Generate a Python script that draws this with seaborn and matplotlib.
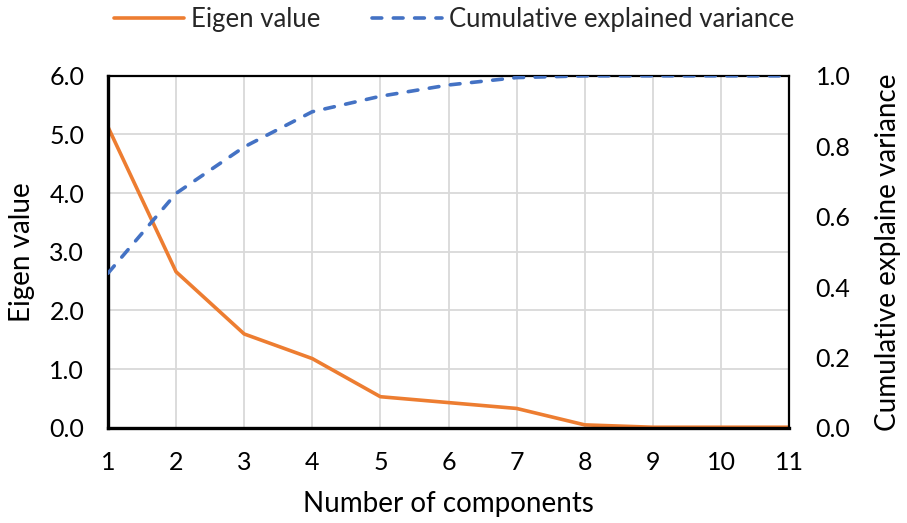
import matplotlib
matplotlib.use("Agg")
import matplotlib.pyplot as plt
import seaborn as sns
import pandas as pd

components = [1, 2, 3, 4, 5, 6, 7, 8, 9, 10, 11]
eigen_values = [5.13, 2.66, 1.60, 1.18, 0.53, 0.43, 0.33, 0.05, 0.01, 0.01, 0.01]
cumulative_variance = [0.439, 0.666, 0.798, 0.898, 0.942, 0.974, 0.995, 1.0, 1.0, 1.0, 1.0]
left_ticks = [0.0, 1.0, 2.0, 3.0, 4.0, 5.0, 6.0]
right_ticks = [0.0, 0.2, 0.4, 0.6, 0.8, 1.0]

sns.set_theme(style="white")
plt.rcParams["font.family"] = ["Lato", "DejaVu Sans"]

df = pd.DataFrame({"n": components, "eig": eigen_values, "cum": cumulative_variance})

fig = plt.figure(figsize=(9.07, 5.23), dpi=100)
ax = fig.add_axes([0.119, 0.182, 0.751, 0.673])
ax2 = ax.twinx()

orange = "#ED7D31"
blue = "#4472C4"

sns.lineplot(data=df, x="n", y="eig", ax=ax, color=orange, linewidth=2.6,
             label="Eigen value", legend=False)
sns.lineplot(data=df, x="n", y="cum", ax=ax2, color=blue, linewidth=2.6,
             label="Cumulative explained variance", legend=False)
ax2.lines[0].set_dashes((2.7, 3.2))
ax2.lines[0].set_dash_capstyle("round")

ax.set_xlim(1, 11)
ax.set_ylim(0, 6)
ax2.set_ylim(0, 1)
ax.set_xticks(components)
ax.set_yticks(left_ticks)
ax.set_yticklabels([f"{v:.1f}" for v in left_ticks])
ax2.set_yticks(right_ticks)
ax2.set_yticklabels([f"{v:.1f}" for v in right_ticks])

ax.grid(True, color="#D9D9D9", linewidth=1.3)
ax.set_axisbelow(True)
ax2.grid(False)

ax.tick_params(axis="x", length=0, labelsize=18, colors="black", pad=17)
ax.tick_params(axis="y", length=0, labelsize=18, colors="black", pad=17)
ax2.tick_params(axis="y", length=0, labelsize=18, colors="black", pad=19)
for a in (ax, ax2):
    for s in a.spines.values():
        s.set_color("black")
ax.spines["left"].set_linewidth(2.4)
ax.spines["bottom"].set_linewidth(2.4)
ax.spines["top"].set_linewidth(1.6)
ax2.spines["right"].set_linewidth(1.6)
ax2.spines["left"].set_visible(False)
ax2.spines["bottom"].set_visible(False)
ax2.spines["top"].set_visible(False)

ax.set_xlabel("Number of components", fontsize=20, color="black", labelpad=12)
ax.set_ylabel("Eigen value", fontsize=20, color="black", labelpad=10)
ax2.set_ylabel("Cumulative explaine variance", fontsize=20, color="black", labelpad=18)

handles = ax.lines[:1] + ax2.lines[:1]
labels = ["Eigen value", "Cumulative explained variance"]
fig.legend(handles, labels, loc="center", bbox_to_anchor=(0.501, 0.962), ncol=2,
           frameon=False, fontsize=18.5, handlelength=2.7, columnspacing=2.0,
           handletextpad=0.3)

fig.savefig("out.png", dpi=100)
